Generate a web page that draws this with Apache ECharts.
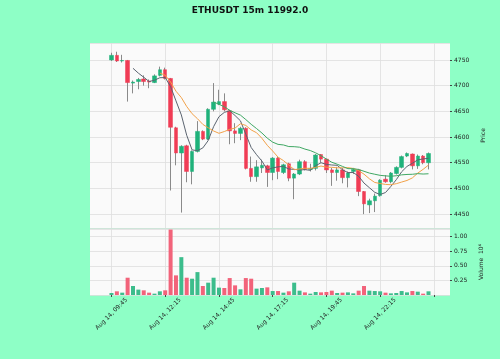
<!DOCTYPE html>
<html>
<head>
<meta charset="utf-8">
<script src="https://cdn.jsdelivr.net/npm/echarts@6/dist/echarts.min.js"></script>
<style>
  html, body { margin: 0; padding: 0; background: #8effc6; }
  #chart { width: 500px; height: 359px; }
</style>
</head>
<body>
<div id="chart"></div>
<script>
// 15m candles, Aug 14 09:45 onwards
const opens = [4750,4759,4748,4749,4705,4708,4713,4709,4706,4720,
  4731,4714,4618,4569,4583,4533,4572,4611,4596,4654,
  4664,4669,4651,4612,4607,4617,4539,4523,4540,4544,
  4531,4559,4531,4548,4520,4528,4552,4537,4539,4566,
  4557,4536,4531,4536,4521,4533,4536,4494,4468,4476,
  4486,4518,4513,4529,4541,4563,4567,4544,4563,4550];
const closes = [4759,4748,4749,4706,4707,4712,4708,4707,4719,4731,
  4714,4619,4569,4582,4533,4572,4611,4596,4654,4668,
  4669,4653,4612,4607,4617,4539,4523,4542,4545,4531,
  4559,4533,4546,4520,4528,4552,4537,4539,4565,4557,
  4536,4531,4536,4521,4530,4537,4494,4470,4476,4485,
  4516,4513,4530,4541,4562,4568,4544,4563,4550,4568];
const highs = [4764,4766,4760,4750,4710,4715,4720,4712,4722,4737,
  4735,4715,4620,4584,4585,4574,4631,4613,4656,4705,
  4692,4685,4653,4627,4620,4619,4562,4555,4556,4546,
  4561,4561,4548,4550,4530,4556,4555,4548,4567,4567,
  4558,4540,4542,4540,4533,4540,4538,4495,4480,4490,
  4518,4526,4532,4543,4564,4570,4568,4566,4565,4570];
const lows = [4748,4746,4745,4669,4685,4693,4700,4695,4705,4718,
  4712,4496,4545,4453,4512,4508,4570,4594,4594,4650,
  4662,4650,4586,4588,4594,4537,4513,4513,4530,4503,
  4516,4518,4528,4514,4479,4526,4535,4533,4535,4550,
  4530,4505,4515,4510,4502,4528,4485,4450,4452,4454,
  4484,4511,4510,4527,4539,4561,4537,4538,4547,4537];
// volume in units of 10^6
const volumes = [0.034,0.063,0.04,0.296,0.154,0.092,0.08,0.04,0.023,0.063,
  0.08,1.12,0.336,0.648,0.296,0.279,0.392,0.154,0.211,0.296,
  0.126,0.12,0.29,0.165,0.097,0.29,0.279,0.109,0.12,0.131,
  0.068,0.068,0.04,0.063,0.211,0.074,0.045,0.023,0.051,0.045,
  0.051,0.074,0.034,0.04,0.045,0.028,0.074,0.154,0.074,0.068,
  0.063,0.04,0.028,0.034,0.068,0.045,0.068,0.057,0.023,0.063];
const tickLabels = ['Aug 14, 09:45','Aug 14, 12:15','Aug 14, 14:45',
  'Aug 14, 17:15','Aug 14, 19:45','Aug 14, 22:15'];
const mavPeriods = [5, 10, 20];
const mavColors = ['#5b6470', '#f2a24a', '#3fa863'];

const UP = '#1fb27b', DOWN = '#f03c55';
const UPV = '#3cbd8c', DOWNV = '#f2637a';
const PAD_L = 4, PAD_R = 4;   // empty slots either side, like mplfinance's x padding
const n = closes.length;

const slots = [];
for (let i = -PAD_L; i < n + PAD_R; i++) slots.push(String(i));
const pad = arr => Array(PAD_L).fill('-').concat(arr);

const wicks = pad(opens.map((o, i) => [o, closes[i], lows[i], highs[i]]));
const bodies = pad(opens.map((o, i) => [o, closes[i], Math.min(o, closes[i]), Math.max(o, closes[i])]));
const vols = pad(volumes.map((v, i) => ({
  value: v,
  itemStyle: { color: closes[i] >= opens[i] ? UPV : DOWNV }
})));

function mav(p) {
  return closes.map((c, i) => {
    if (i < p - 1) return '-';
    let s = 0;
    for (let k = i - p + 1; k <= i; k++) s += closes[k];
    return +(s / p).toFixed(2);
  });
}

const onTick = idx => (idx - PAD_L) % 10 === 0 && idx >= PAD_L;
const labelFmt = v => {
  const i = +v;
  return i % 10 === 0 ? (tickLabels[i / 10] || '') : '';
};

const gridLine = { show: true, lineStyle: { color: '#dedede', width: 0.8 } };

let chart = echarts.init(document.getElementById('chart'));
let option = {
  animation: false,
  backgroundColor: '#8effc6',
  title: {
    text: 'ETHUSDT 15m 11992.0',
    left: 'center',
    top: 1,
    textStyle: { fontSize: 9, fontWeight: 'bold', color: '#111', fontFamily: 'DejaVu Sans' }
  },
  grid: [
    { left: 90, right: 50, top: 43, height: 185, show: true, backgroundColor: '#fafafa', borderWidth: 0 },
    { left: 90, right: 50, top: 229, height: 66, show: true, backgroundColor: '#fafafa', borderWidth: 0 }
  ],
  xAxis: [
    {
      type: 'category', gridIndex: 0, data: slots, boundaryGap: false,
      axisLine: { show: false }, axisTick: { show: false }, axisLabel: { show: false },
      splitLine: Object.assign({ interval: onTick }, gridLine)
    },
    {
      type: 'category', gridIndex: 1, data: slots, boundaryGap: false,
      axisLine: { show: false },
      axisTick: { show: true, interval: onTick, length: 2, lineStyle: { color: '#444' } },
      axisLabel: {
        interval: onTick, formatter: labelFmt, rotate: 45,
        align: 'center', verticalAlign: 'middle',
        fontSize: 6, color: '#222', fontFamily: 'DejaVu Sans', margin: 19
      },
      splitLine: Object.assign({ interval: onTick }, gridLine)
    }
  ],
  yAxis: [
    {
      type: 'value', gridIndex: 0, position: 'right',
      min: 4423, max: 4783, splitNumber: 7, scale: true,
      name: 'Price', nameLocation: 'middle', nameGap: 22, nameRotate: 90,
      nameTextStyle: { fontSize: 6, color: '#222', fontFamily: 'DejaVu Sans' },
      axisLine: { show: false },
      axisTick: { show: true, length: 2, lineStyle: { color: '#444' } },
      axisLabel: { fontSize: 6, color: '#222', fontFamily: 'DejaVu Sans', margin: 4,
        showMinLabel: false, showMaxLabel: false, formatter: v => String(v) },
      splitLine: gridLine
    },
    {
      type: 'value', gridIndex: 1, position: 'right',
      min: 0, max: 1.13, interval: 0.25,
      name: 'Volume  10\u2076', nameLocation: 'middle', nameGap: 22, nameRotate: 90,
      nameTextStyle: { fontSize: 6, color: '#222', fontFamily: 'DejaVu Sans' },
      axisLine: { show: false },
      axisTick: { show: true, length: 2, lineStyle: { color: '#444' } },
      axisLabel: { fontSize: 6, color: '#222', fontFamily: 'DejaVu Sans', margin: 4,
        showMinLabel: false, showMaxLabel: false,
        formatter: v => v.toFixed(2) },
      splitLine: gridLine
    }
  ],
  series: [
    {
      name: 'wick', type: 'candlestick', xAxisIndex: 0, yAxisIndex: 0,
      data: wicks, barWidth: 1,
      itemStyle: { color: '#8a8a8a', color0: '#8a8a8a', borderColor: '#8a8a8a', borderColor0: '#8a8a8a', borderWidth: 1 }
    },
    {
      name: 'body', type: 'candlestick', xAxisIndex: 0, yAxisIndex: 0,
      data: bodies, barWidth: 4,
      itemStyle: { color: UP, color0: DOWN, borderColor: UP, borderColor0: DOWN, borderWidth: 0.5 }
    }
  ].concat(mavPeriods.map((p, k) => ({
    name: 'MA' + p, type: 'line', xAxisIndex: 0, yAxisIndex: 0,
    data: pad(mav(p)), symbol: 'none', z: 3,
    lineStyle: { color: mavColors[k], width: 1 }
  }))).concat([
    {
      name: 'Volume', type: 'bar', xAxisIndex: 1, yAxisIndex: 1,
      data: vols, barWidth: 4
    }
  ])
};
chart.setOption(option);
</script>
</body>
</html>
